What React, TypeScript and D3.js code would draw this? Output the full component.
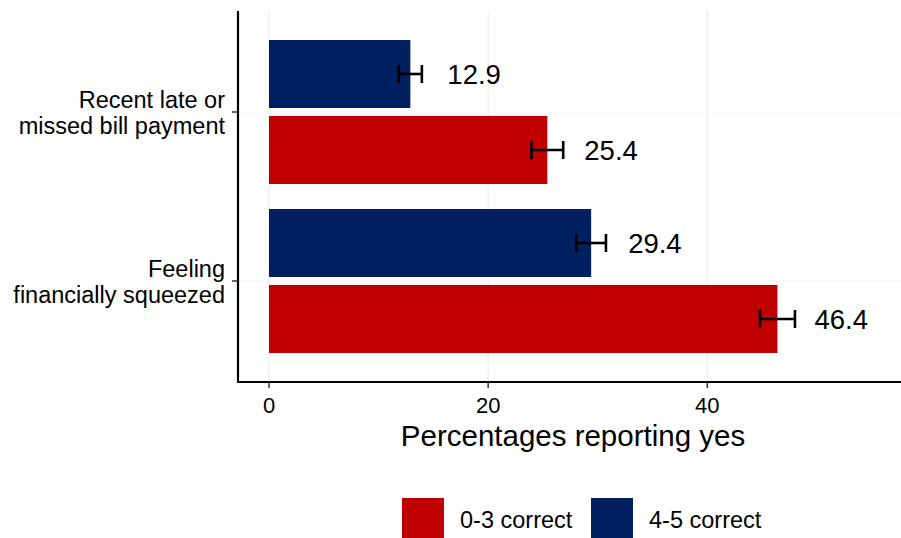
import React from "react";
import * as d3 from "d3";

const categories = ["Recent late or missed bill payment", "Feeling financially squeezed"];
const categoryLines = [["Recent late or", "missed bill payment"], ["Feeling", "financially squeezed"]];
const seriesNames = ["4-5 correct", "0-3 correct"];
const legendOrder = ["0-3 correct", "4-5 correct"];
const colors = ["#002060", "#C00000"];
// values per series, per category
const values45 = [12.9, 29.4];
const values03 = [25.4, 46.4];
const err45 = [1.05, 1.35];
const err03 = [1.45, 1.6];
const xTicks = [0, 20, 40];
const xTitle = "Percentages reporting yes";

const W = 901;
const H = 538;
const FONT = "'Liberation Sans', Arial, sans-serif";

export default function App() {
  const x = d3.scaleLinear().domain([0, 40]).range([269, 707.3]);
  const y = d3.scalePoint<string>().domain(categories).range([112, 281]);
  const inner = d3.scaleBand<string>().domain(seriesNames).range([-72, 72]).paddingInner(0.105);
  const axisLeft = 238;
  const axisBottom = 382;
  const plotTop = 11;
  const plotRight = W;

  const seriesData = [
    { name: seriesNames[0], color: colors[0], vals: values45, errs: err45 },
    { name: seriesNames[1], color: colors[1], vals: values03, errs: err03 },
  ];

  return (
    <svg width={W} height={H} style={{ position: "absolute", left: 0, top: 0, fontFamily: FONT }}>
      <rect x={0} y={0} width={W} height={H} fill="#fff" />
      {/* vertical grid */}
      {xTicks.map((t) => (
        <line key={"g" + t} x1={x(t)} x2={x(t)} y1={plotTop} y2={axisBottom} stroke="#ebebeb" strokeWidth={1.2} />
      ))}
      {/* horizontal grid */}
      {categories.map((c) => (
        <line key={"h" + c} x1={axisLeft} x2={plotRight} y1={y(c)} y2={y(c)} stroke="#f2f2f2" strokeWidth={1} />
      ))}
      {/* bars */}
      {seriesData.map((s) =>
        categories.map((c, i) => {
          const top = (y(c) as number) + (inner(s.name) as number);
          return (
            <rect key={s.name + c} x={x(0)} y={top} width={x(s.vals[i]) - x(0)} height={inner.bandwidth()} fill={s.color} />
          );
        })
      )}
      {/* error bars */}
      {seriesData.map((s) =>
        categories.map((c, i) => {
          const cy = (y(c) as number) + (inner(s.name) as number) + inner.bandwidth() / 2;
          const lo = x(s.vals[i] - s.errs[i]);
          const hi = x(s.vals[i] + s.errs[i]);
          return (
            <g key={"e" + s.name + c} stroke="#000" strokeWidth={2.6}>
              <line x1={lo} x2={hi} y1={cy} y2={cy} />
              <line x1={lo} x2={lo} y1={cy - 9} y2={cy + 9} />
              <line x1={hi} x2={hi} y1={cy - 9} y2={cy + 9} />
            </g>
          );
        })
      )}
      {/* value labels */}
      {seriesData.map((s) =>
        categories.map((c, i) => {
          const cy = (y(c) as number) + (inner(s.name) as number) + inner.bandwidth() / 2;
          return (
            <text key={"v" + s.name + c} x={x(s.vals[i]) + 37} y={cy + 10} fontSize={27.5} fill="#000">
              {s.vals[i].toFixed(1)}
            </text>
          );
        })
      )}
      {/* axes */}
      <line x1={axisLeft} x2={axisLeft} y1={plotTop} y2={axisBottom + 1} stroke="#000" strokeWidth={2.2} />
      <line x1={axisLeft - 1} x2={plotRight} y1={axisBottom} y2={axisBottom} stroke="#000" strokeWidth={2.2} />
      {xTicks.map((t) => (
        <g key={"t" + t}>
          <line x1={x(t)} x2={x(t)} y1={axisBottom} y2={axisBottom + 6} stroke="#333" strokeWidth={1.5} />
          <text x={x(t)} y={413} fontSize={22} textAnchor="middle" fill="#000">
            {t}
          </text>
        </g>
      ))}
      {categories.map((c, i) => (
        <g key={"yl" + c}>
          <line x1={axisLeft - 6} x2={axisLeft} y1={y(c)} y2={y(c)} stroke="#333" strokeWidth={1.5} />
          <text x={225} y={(y(c) as number) - 4.5} fontSize={23.5} textAnchor="end" fill="#000">
            {categoryLines[i][0]}
          </text>
          <text x={225} y={(y(c) as number) + 21.5} fontSize={23.5} textAnchor="end" fill="#000">
            {categoryLines[i][1]}
          </text>
        </g>
      ))}
      <text x={573} y={446} fontSize={29.5} textAnchor="middle" fill="#000">
        {xTitle}
      </text>
      {/* legend */}
      {legendOrder.map((name, i) => {
        const lx = [402, 591][i];
        const col = colors[seriesNames.indexOf(name)];
        return (
          <g key={"lg" + name}>
            <rect x={lx} y={498} width={42} height={42} fill={col} />
            <text x={lx + 58} y={528} fontSize={23.5} fill="#000">
              {name}
            </text>
          </g>
        );
      })}
    </svg>
  );
}
